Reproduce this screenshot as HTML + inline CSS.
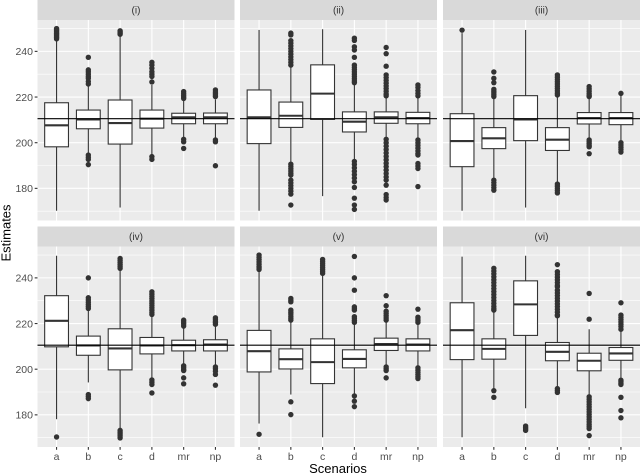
<!DOCTYPE html>
<html>
<head>
<meta charset="utf-8">
<title>Estimates by scenario</title>
<style>
html,body{margin:0;padding:0;background:#fff;}
#chart{display:block;width:640px;height:475px;font-family:"Liberation Sans",sans-serif;}
</style>
</head>
<body>
<svg id="chart" xmlns="http://www.w3.org/2000/svg" width="640" height="475" viewBox="0 0 640 475">
<text x="338" y="473" text-anchor="middle" font-size="13" fill="#000">Scenarios</text>
<text transform="translate(10.5,233) rotate(-90)" text-anchor="middle" font-size="13" fill="#000">Estimates</text>
</svg>
<script>
const categories = ['a','b','c','d','mr','np'];
const panelTitles = ['(i)','(ii)','(iii)','(iv)','(v)','(vi)'];
const yTicks = [180,200,220,240];
const yMinorTicks = [170,190,210,230,250];
const referenceValue = 210.5;

const low1 = [170.2,195,171.6,195,202.3,202];
const q11 = [198.2,206.1,199.4,206.4,208.3,208.3];
const med1 = [207.6,210.2,208.6,210.5,211.1,211.1];
const q31 = [217.5,214.3,218.7,214.3,212.9,213];
const high1 = [245,225.3,248,225.3,218.7,219];
const out1 = [
  [245.5,246,246.5,247,247.5,248,248.5,249,249.5,250],
  [237.4,231.9,231,230,229,228.2,226.8,225.7,194.6,193.6,192.7,190.4],
  [247.5,248,248.5,249],
  [235.2,234,232.6,231.1,230,229,226.6,193.9,192.7],
  [222.4,221.6,220.8,220,219.4,201.5,200.4,197.5],
  [223.1,222.2,221.6,220.9,220.2,201.2,200.4,189.9]
];

const low2 = [170.2,191.2,176.6,192.4,201.9,201.8];
const q12 = [199.6,206.7,210.2,204.7,208.5,208.3];
const med2 = [211.1,211.8,221.5,209.2,211.1,210.8];
const q32 = [223.1,217.8,234.1,213.5,213.5,213.3];
const high2 = [249.4,233.3,249.7,226,220.2,220.2];
const out2 = [
  [],
  [248,247.2,244.7,243.6,242.4,241.2,240,238.8,237.6,236.4,235.2,234,190.6,189.6,188.6,187.6,186.6,185.8,183.6,182.4,181.2,180,178.8,177.5,172.7],
  [],
  [245.8,244.8,242,240.6,237.4,234,233,232,231,230,229,228,227,226.3,191.8,190.5,189,187.5,186,184.5,182.9,180.4,175.7,172.7,170.8],
  [241.7,239,233.5,229.7,228.5,227.3,226.1,224.9,223.7,222.5,221.3,220.5,201.5,200,198.5,197,195.5,194,192.5,191,189.5,188,186.5,185,183.6,181.4,177.3,176,174.9],
  [225.3,224.2,222.8,221.6,220.5,201.2,200,198.8,197.6,196.4,195.2,194.6,190.9,189.8,188.7,180.8]
];

const low3 = [170.2,183.6,171.6,182.5,201.5,201];
const q13 = [189.5,197.4,200.9,196.6,208.2,207.9];
const med3 = [200.7,201.9,210.2,201.3,210.8,210.8];
const q33 = [212.7,206.6,220.6,206.6,213.2,213.2];
const high3 = [248,220.2,249.4,220.9,220,220.5];
const out3 = [
  [249.3],
  [231,228.2,226.3,223.4,222.6,221.8,221,220.2,183.6,182.5,181.4,180.3,179.2],
  [],
  [229.7,228.7,227.7,226.7,225.7,224.7,223.7,222.7,221.7,220.9,181.9,181,180,179,178],
  [224.6,223.6,222.6,221.6,220.8,220.2,201.2,200.4,199.6,198.8,198.2,195.2],
  [221.6,200,199,198,197,195.9]
];

const low4 = [178.1,194.2,174,196.2,201.8,201.6];
const q14 = [209.8,206.1,199.7,206.7,208,208];
const med4 = [221.2,210.4,209.1,210.4,210.5,210.8];
const q34 = [232.2,214.5,217.7,213.9,212.7,212.9];
const high4 = [249.7,226.6,244.2,224,218.6,219.5];
const out4 = [
  [170.3],
  [240,231.3,230.3,229.3,228.3,227.4,226.6,188.9,188,187.1],
  [248.5,247.6,246.7,245.8,245,244.2,173.2,172.4,171.6,170.8,169.9],
  [233.9,232.9,231.9,230.9,229.9,228.9,227.9,226.9,225.9,224.9,224,195.3,194.3,193.3,189.6],
  [221.5,220.7,219.9,218.9,201.5,200.8,200,199.4,196.2,193.6],
  [222.5,221.8,221,220.4,219.7,201,200.2,199.1,197.7,193]
];

const low5 = [176.2,188.9,170.2,189.3,201.5,201.2];
const q15 = [198.8,200.1,193.7,200.6,208.2,208];
const med5 = [207.9,204.4,203.1,204.5,211,210.8];
const q35 = [217,208.9,213.3,208.5,213.6,213.3];
const high5 = [243.4,221.5,242,220.8,220.8,220.5];
const out5 = [
  [250,249,248,247,246,245,244.4,243.7,171.5],
  [231,230.2,229.5,225.9,225,224.2,223.2,222.3,221.5,185.7,180.1],
  [248.1,247.2,246.3,245.4,244.5,243.6,242.8,242],
  [249.4,240,234.6,227.3,226.6,225.9,223,222.2,221.3,220.5,188.3,186,183.6],
  [232.2,227.8,225.4,224.4,223.4,222.4,221.5,201,200.2,199.4,196.2],
  [226.3,222.8,222,221.2,220.5,200.6,199.6,198.6,197.6,196.7,195.9]
];

const low6 = [170.2,191.5,182.9,192.5,188.6,195.9];
const q16 = [204.2,204.4,214.8,203.7,199.3,203.9];
const med6 = [217.1,208.9,228.4,207.6,203.7,206.9];
const q36 = [229.1,213.3,238.7,211.7,207,209.5];
const high6 = [249.3,225.9,249.7,223,217.5,217.5];
const out6 = [
  [],
  [244.2,243,241.8,240.5,239.2,237.9,236.6,235.3,234,232.7,231.4,230.1,228.8,227.5,226.5,225.9,190.6,187.7],
  [175.1,174.4,173.8,173.2],
  [245.8,242.7,241.5,240.3,239.1,237.9,236.7,236.1,234.6,233.4,232.2,231,229.8,228.6,227.4,226.2,225,223.8,223.4,191.5,190.6,189.8],
  [233.2,221.9,187.9,186.8,185.7,184.6,183.5,182.4,181.3,180.2,179.1,178,176.9,175.8,174.9,174,170.9],
  [229.1,223.7,222.7,221.7,220.7,219.7,218.7,217.5,195.2,194.5,193.8,193.3,187.7,181.9,178.7]
];

const lows = [low1,low2,low3,low4,low5,low6];
const q1s = [q11,q12,q13,q14,q15,q16];
const medians = [med1,med2,med3,med4,med5,med6];
const q3s = [q31,q32,q33,q34,q35,q36];
const highs = [high1,high2,high3,high4,high5,high6];
const outliers = [out1,out2,out3,out4,out5,out6];

const svg = document.getElementById('chart');
const NS = 'http://www.w3.org/2000/svg';
const colLefts = [37.5,240,443];
const rowTops = [20,246.5];
const panelW = 197;
const panelH = 200.5;
const stripH = 20;

function shape(tag, parent, props) {
  const n = document.createElementNS(NS, tag);
  for (const k in props) n.setAttribute(k, props[k]);
  parent.appendChild(n);
  return n;
}
function xScale(i, left) { return left + (i + 0.6) * panelW / 6.2; }
function yScale(v, top) { return top + 122.7 - (v - 200) * 2.283; }

panelTitles.forEach(function (title, p) {
  const col = p % 3;
  const row = Math.floor(p / 3);
  const left = colLefts[col];
  const top = rowTops[row];
  const slug = 'panel-' + (p + 1);

  const g = shape('g', svg, {});
  
  

  const strip = shape('rect', g, {x:left, y:top-stripH, width:panelW, height:stripH, fill:'#d9d9d9'});
  
  

  const label = shape('text', g, {x:left+panelW/2, y:top-6.5, 'text-anchor':'middle', 'font-size':'10', fill:'#333'});
  label.textContent = title;
  
  

  const bg = shape('rect', g, {x:left, y:top, width:panelW, height:panelH, fill:'#ebebeb'});
  
  

  yMinorTicks.forEach(function (t) {
    const m = shape('line', g, {x1:left, x2:left+panelW, y1:yScale(t,top), y2:yScale(t,top), stroke:'#fff', 'stroke-width':'0.55'});
    
    
  });
  yTicks.forEach(function (t) {
    const m = shape('line', g, {x1:left, x2:left+panelW, y1:yScale(t,top), y2:yScale(t,top), stroke:'#fff', 'stroke-width':'1.1'});
    
    
  });
  categories.forEach(function (c, i) {
    const m = shape('line', g, {x1:xScale(i,left), x2:xScale(i,left), y1:top, y2:top+panelH, stroke:'#fff', 'stroke-width':'1.1'});
    
    
  });

  categories.forEach(function (c, i) {
    const cx = xScale(i, left);
    const bw = 23.8;
    const bg2 = shape('g', g, {});
    
    

    outliers[p][i].forEach(function (v) {
      const d = shape('circle', bg2, {cx:cx, cy:yScale(v,top), r:'2.7', fill:'#333'});
      
      
    });

    const up = shape('line', bg2, {x1:cx, x2:cx, y1:yScale(q3s[p][i],top), y2:yScale(highs[p][i],top), stroke:'#333', 'stroke-width':'1.1'});
    
    

    const lo = shape('line', bg2, {x1:cx, x2:cx, y1:yScale(q1s[p][i],top), y2:yScale(lows[p][i],top), stroke:'#333', 'stroke-width':'1.1'});
    
    

    const yq3 = yScale(q3s[p][i], top);
    const yq1 = yScale(q1s[p][i], top);
    const box = shape('rect', bg2, {x:cx-bw/2, y:yq3, width:bw, height:yq1-yq3, fill:'#fff', stroke:'#333', 'stroke-width':'1.1'});
    
    

    const med = shape('line', bg2, {x1:cx-bw/2, x2:cx+bw/2, y1:yScale(medians[p][i],top), y2:yScale(medians[p][i],top), stroke:'#333', 'stroke-width':'2.1'});
    
    
  });

  const ref = shape('line', g, {x1:left, x2:left+panelW, y1:yScale(referenceValue,top), y2:yScale(referenceValue,top), stroke:'#000', 'stroke-width':'1.1'});
  
  

  if (col === 0) {
    yTicks.forEach(function (t) {
      const tk = shape('line', g, {x1:left-2.8, x2:left, y1:yScale(t,top), y2:yScale(t,top), stroke:'#333', 'stroke-width':'1.1'});
      
      
      const tl = shape('text', g, {x:left-4.5, y:yScale(t,top)+3.8, 'text-anchor':'end', 'font-size':'10.5', fill:'#4d4d4d'});
      tl.textContent = t;
      
      
    });
  }
  if (row === 1) {
    categories.forEach(function (c, i) {
      const cx = xScale(i, left);
      const tk = shape('line', g, {x1:cx, x2:cx, y1:top+panelH, y2:top+panelH+2.8, stroke:'#333', 'stroke-width':'1.1'});
      
      
      const tl = shape('text', g, {x:cx, y:top+panelH+13, 'text-anchor':'middle', 'font-size':'10.5', fill:'#4d4d4d'});
      tl.textContent = c;
      
      
    });
  }
});
</script>
</body>
</html>
